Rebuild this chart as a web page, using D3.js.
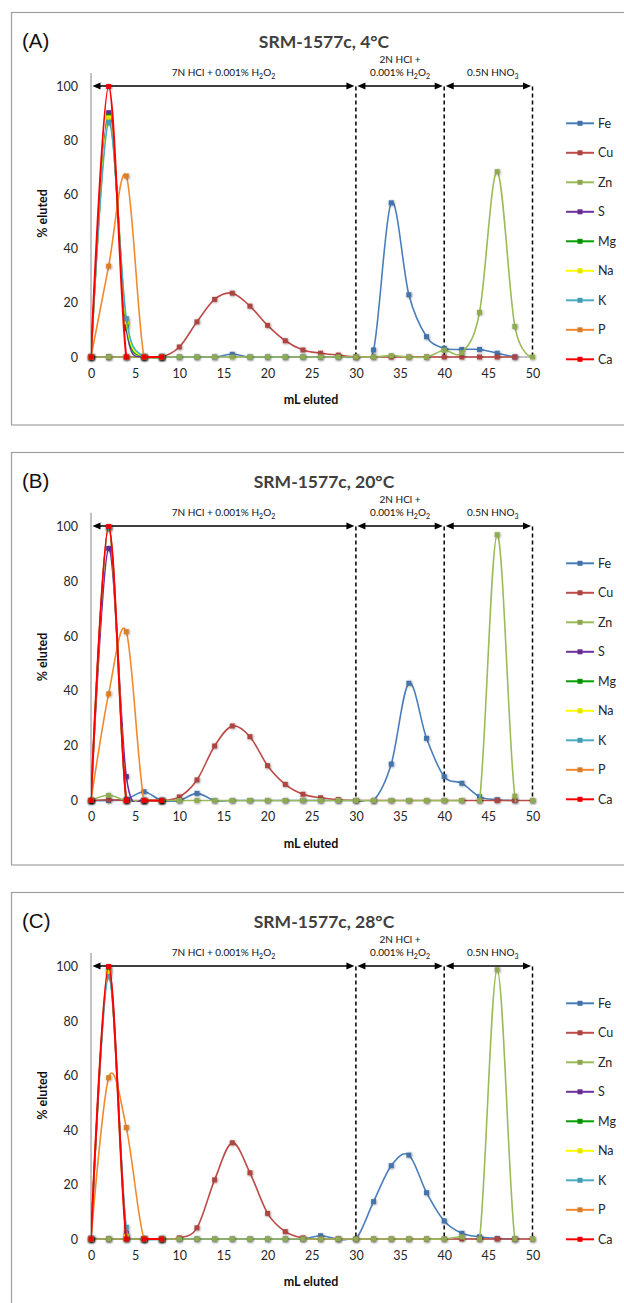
<!DOCTYPE html>
<html>
<head>
<meta charset="utf-8">
<script src="https://cdn.jsdelivr.net/npm/d3@7"></script>
<style>
  body { margin: 0; background: #fff; }
  svg { display: block; }
  text { font-family: Lato, "Open Sans", sans-serif; }
</style>
</head>
<body>
<svg id="chart" width="624" height="1303"></svg>
<script>
// volume eluted (mL)
const mL = [0, 2, 4, 6, 8, 10, 12, 14, 16, 18, 20, 22, 24, 26, 28, 30, 32, 34, 36, 38, 40, 42, 44, 46, 48, 50];
const elements = ["Fe", "Cu", "Zn", "S", "Mg", "Na", "K", "P", "Ca"];
const colors = ["#4a7ebb", "#be4b48", "#9bbb59", "#7030a0", "#00a000", "#ffff00", "#4bacc6", "#f08a2c", "#ff0000"];
const yTicks = [0, 20, 40, 60, 80, 100];
const xTicks = [0, 5, 10, 15, 20, 25, 30, 35, 40, 45, 50];

// (A) 4°C  - % eluted
const feA = [0, 0, 0, 0, 0, 0, 0, 0, 1, 0, 0, 0, 0, 0, 0, 0, 2.6, 57, 23, 7.5, 3.2, 2.8, 2.8, 1.4, 0];
const cuA = [0, 0, 0, 0, 0, 3.7, 13, 21.3, 23.6, 18.8, 11.7, 6, 2.6, 1.4, 0.7, 0, 0, 0, 0, 0, 0, 0, 0, 0, 0];
const znA = [0, 0, 0, 0, 0, 0, 0, 0, 0, 0, 0, 0, 0, 0, 0, 0, 0, 0.5, 0, 0, 2.5, 1.6, 16.5, 68.5, 11.3, 0];
const sA  = [0, 90.3, 10.5, 0, 0];
const mgA = [0, 89, 12, 0, 0];
const naA = [0, 88.4, 13, 0, 0];
const kA  = [0, 86.8, 14.2, 0, 0];
const pA  = [0, 33.6, 66.9, 0, 0];
const caA = [0, 100, 0, 0, 0];

// (B) 20°C
const feB = [0, 0, 0.5, 3.2, 0, 0, 2.6, 0, 0, 0, 0, 0, 0, 0, 0, 0, 0, 13.3, 42.8, 22.7, 8.7, 6.3, 1.4, 0.3, 0];
const cuB = [0, 0.3, 0, 0, 0, 1.3, 7.5, 19.9, 27.2, 23.3, 12.7, 5.9, 2.3, 1, 0.3, 0, 0, 0, 0, 0, 0, 0, 0, 0, 0, 0];
const znB = [0, 1.9, 0, 0, 0, 0, 0, 0, 0, 0, 0, 0, 0, 0, 0, 0, 0, 0, 0, 0, 0, 0, 0, 97, 1.6, 0];
const sB  = [0, 92, 8.7, 0, 0];
const mgB = [0, 99.5, 0, 0, 0];
const naB = [0, 99.5, 0, 0, 0];
const kB  = [0, 99.5, 0, 0, 0];
const pB  = [0, 38.9, 61.6, 0, 0];
const caB = [0, 100, 0, 0, 0];

// (C) 28°C
const feC = [0.3, 0, 0, 0, 0, 0, 0, 0, 0, 0, 0, 0, 0, 1.2, 0, 0, 13.7, 26.9, 30.8, 17, 6.6, 2.1, 0.8, 0.2, 0];
const cuC = [0, 0, 0, 0, 0, 0.4, 4.1, 21.7, 35.3, 24.3, 9.4, 2.7, 0.4, 0, 0, 0, 0, 0, 0, 0, 0, 0, 0, 0, 0, 0];
const znC = [0, 0, 0, 0, 0, 0, 0, 0, 0, 0, 0, 0, 0, 0, 0, 0, 0, 0, 0, 0, 0, 0.8, 0, 98.8, 0, 0];
const sC  = [0, 99, 2.2, 0, 0];
const mgC = [0, 98, 1, 0, 0];
const naC = [0, 98, 1, 0, 0];
const kC  = [0, 96.3, 4.3, 0, 0];
const pC  = [0, 59.2, 40.9, 0, 0];
const caC = [0, 100, 0, 0, 0];

const panels = [
  { tag: "(A)", title: "SRM-1577c, 4°C", data: [feA, cuA, znA, sA, mgA, naA, kA, pA, caA], top: 12.5, bottom: 425, y100: 86.5, y0: 357 },
  { tag: "(B)", title: "SRM-1577c, 20°C", data: [feB, cuB, znB, sB, mgB, naB, kB, pB, caB], top: 452.5, bottom: 865, y100: 526.5, y0: 800.5 },
  { tag: "(C)", title: "SRM-1577c, 28°C", data: [feC, cuC, znC, sC, mgC, naC, kC, pC, caC], top: 892.5, bottom: 1310, y100: 966.5, y0: 1239 }
];

// eluent zones along the top of each plot
const zones = [
  { from: 0, to: 30, mid: 15, lines: [["7N HCl + 0.001% H", "2", "O", "2"]] },
  { from: 30, to: 40, mid: 35, lines: [["2N HCl +"], ["0.001% H", "2", "O", "2"]] },
  { from: 40, to: 50, mid: 45.5, lines: [["0.5N HNO", "3"]] }
];

const svg = d3.select("#chart");
const defs = svg.append("defs");
defs.append("filter").attr("id", "shadow")
    .attr("x", "-150%").attr("y", "-150%").attr("width", "400%").attr("height", "400%")
  .append("feDropShadow")
    .attr("dx", 0.6).attr("dy", 0.6).attr("stdDeviation", 1.3)
    .attr("flood-color", "#000").attr("flood-opacity", 0.45);

const x = d3.scaleLinear().domain([0, 50]).range([91, 532.5]);
const curve = d3.curveCardinal.tension(0);

// write a label with subscript pieces (odd entries are subscripts)
function richText(t, parts) {
  parts.forEach((p, i) => {
    const sub = i % 2 === 1;
    t.append("tspan")
      .attr("dy", sub ? 2.5 : (i > 0 ? -2.5 : 0))
      .attr("font-size", sub ? 7 : null)
      .text(p);
  });
}

panels.forEach((pn, pi) => {
  const g = svg.append("g");
  const y = d3.scaleLinear().domain([0, 100]).range([pn.y0, pn.y100]);

  // panel frame
  g.append("rect")
    .attr("x", 11.5).attr("y", pn.top)
    .attr("width", 630).attr("height", pn.bottom - pn.top)
    .attr("fill", "none").attr("stroke", "#a0a0a0").attr("stroke-width", 1.2);

  g.append("text")
    .attr("x", 22).attr("y", pn.top + 35.5)
    .style("font-family", "'Liberation Sans', Arial, sans-serif")
    .attr("font-size", 20.5).attr("fill", "#111")
    .text(pn.tag);

  g.append("text")
    .attr("x", 324).attr("y", pn.top + 35)
    .attr("text-anchor", "middle")
    .attr("font-size", 17.5).attr("font-weight", "bold").attr("fill", "#404040")
    .text(pn.title);

  // axes
  g.append("line")
    .attr("x1", x(0)).attr("x2", x(0))
    .attr("y1", y(105)).attr("y2", y(0))
    .attr("stroke", "#868686").attr("stroke-width", 1);
  g.append("line")
    .attr("x1", x(0)).attr("x2", x(50))
    .attr("y1", y(0)).attr("y2", y(0))
    .attr("stroke", "#868686").attr("stroke-width", 1);

  const yAxis = g.append("g")
    .attr("transform", `translate(${x(0) - 13},0)`)
    .call(d3.axisLeft(y).tickValues(yTicks).tickSize(0).tickPadding(0));
  yAxis.select(".domain").remove();
  yAxis.selectAll("text")
    .style("font-family", "Lato, sans-serif").attr("font-size", 12.5).attr("fill", "#262626");

  const xAxis = g.append("g")
    .attr("transform", `translate(0,${y(0) + 12})`)
    .call(d3.axisBottom(x).tickValues(xTicks).tickSize(0).tickPadding(0));
  xAxis.select(".domain").remove();
  xAxis.selectAll("text")
    .style("font-family", "Lato, sans-serif").attr("font-size", 12.5).attr("fill", "#262626");

  g.append("text")
    .attr("x", 311).attr("y", y(0) + 47)
    .attr("text-anchor", "middle")
    .attr("font-size", 12.5).attr("font-weight", "bold").attr("fill", "#111")
    .text("mL eluted");

  g.append("text")
    .attr("transform", `translate(46.5,${y(0) - 143.5}) rotate(-90)`)
    .attr("text-anchor", "middle")
    .attr("font-size", 12.5).attr("font-weight", "bold").attr("fill", "#111")
    .text("% eluted");

  // dashed zone separators
  [30, 40, 50].forEach(v => {
    g.append("line")
      .attr("x1", x(v)).attr("x2", x(v))
      .attr("y1", y(100)).attr("y2", y(0))
      .attr("stroke", "#000").attr("stroke-width", 1.5)
      .attr("stroke-dasharray", "4,3");
  });

  // double arrows + eluent labels
  const ay = y(100) - 0.5;
  zones.forEach(z => {
    const x1 = x(z.from) + 1.5, x2 = x(z.to) - 1.5;
    g.append("line")
      .attr("x1", x1 + 4).attr("x2", x2 - 4).attr("y1", ay).attr("y2", ay)
      .attr("stroke", "#000").attr("stroke-width", 1.6);
    g.append("path")
      .attr("d", `M${x1},${ay} l8,-3.5 v7 Z M${x2},${ay} l-8,-3.5 v7 Z`)
      .attr("fill", "#000");
    z.lines.forEach((ln, li) => {
      const t = g.append("text")
        .attr("x", x(z.mid))
        .attr("y", ay - 10 - (z.lines.length - 1 - li) * 13)
        .attr("text-anchor", "middle")
        .attr("font-size", 10).attr("fill", "#111");
      richText(t, ln);
    });
  });

  // series
  const clipId = "clip" + pi;
  defs.append("clipPath").attr("id", clipId)
    .append("rect")
      .attr("x", x(0)).attr("y", y(105))
      .attr("width", x(50) - x(0) + 2).attr("height", y(0) - y(105) + 1.5);

  const line = d3.line().x(d => x(d[0])).y(d => y(d[1])).curve(curve);

  elements.forEach((el, i) => {
    const pts = pn.data[i].map((v, k) => [mL[k], v]);
    g.append("path")
      .attr("clip-path", `url(#${clipId})`)
      .attr("d", line(pts))
      .attr("fill", "none")
      .attr("stroke", colors[i])
      .attr("stroke-width", el === "Ca" ? 2 : 1.6);
    g.append("g").selectAll("rect")
      .data(pts).join("rect")
        .attr("x", d => x(d[0]) - 2.5).attr("y", d => y(d[1]) - 2.5)
        .attr("width", 5).attr("height", 5)
        .attr("fill", d3.color(colors[i]).darker(0.25))
        .attr("filter", "url(#shadow)");
  });

  // legend
  const lg = g.append("g");
  elements.forEach((el, i) => {
    const ly = pn.top + 110.8 + i * 29.5;
    lg.append("line")
      .attr("x1", 566).attr("x2", 594).attr("y1", ly).attr("y2", ly)
      .attr("stroke", colors[i]).attr("stroke-width", 2);
    lg.append("rect")
      .attr("x", 577.5).attr("y", ly - 2.5).attr("width", 5).attr("height", 5)
      .attr("fill", d3.color(colors[i]).darker(0.3));
    lg.append("text")
      .attr("x", 598).attr("y", ly + 4.5)
      .attr("font-size", 12.5).attr("fill", "#262626")
      .text(el);
  });
});
</script>
</body>
</html>
